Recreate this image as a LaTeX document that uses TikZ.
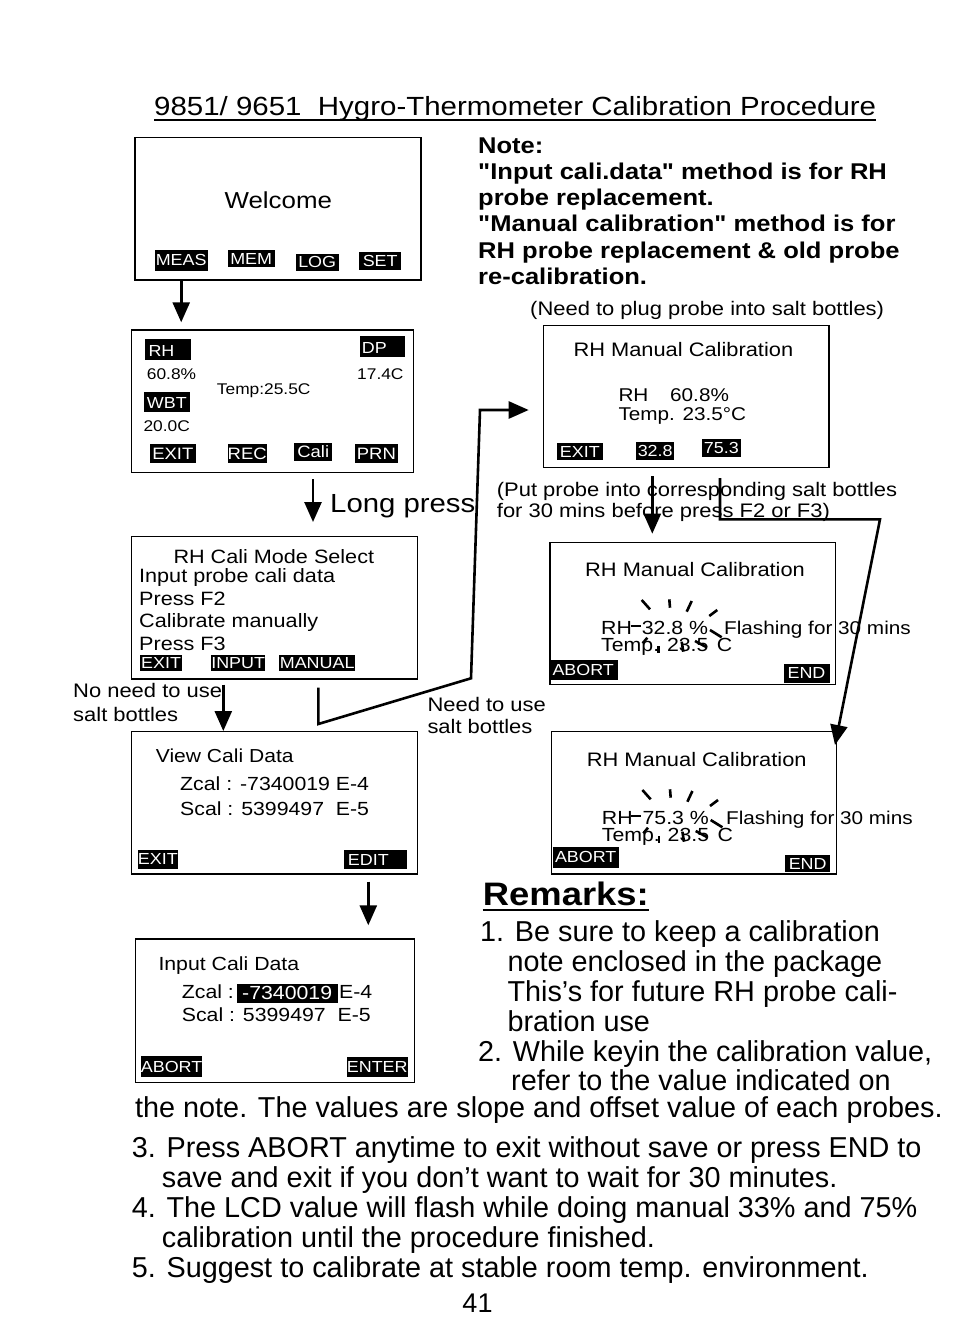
\documentclass[tikz,border=0pt]{standalone}
\usepackage{fontspec}
\setmainfont{Liberation Sans}
\newfontfamily\wide{Liberation Sans}[FakeStretch=1.12]
\usetikzlibrary{arrows.meta}
\newcommand\fsz[1]{\fontsize{#1}{#1}\selectfont}
\tikzset{
  screen/.style={draw, line width=1.4pt, inner sep=0pt, anchor=north west},
  tag/.style={fill=black, text=white, inner sep=0pt, font=\wide\fsz{16}, anchor=north west},
  tagtxt/.style={text=white, inner sep=0pt, anchor=base west, font=\wide\fsz{16}},
  txt/.style={inner sep=0pt, anchor=base west},
  scr/.style={txt, font=\wide\fsz{19.3}},
  small/.style={txt, font=\wide\fsz{15.5}},
  lbl/.style={txt, font=\wide\fsz{19.6}},
  notef/.style={txt, font=\wide\bfseries\fsz{22.8}},
  rem/.style={txt, font=\fsz{28.8}},
  arr/.style={line width=2.6pt, -{Triangle[length=20pt,width=17pt]}},
  flash/.style={line width=2.6pt}
}
\newcommand\screen[5]{\node[screen, minimum width={(#4-#2)*1pt}, minimum height={(#5-#3)*1pt}] (#1) at (#2,#3) {};}
\newcommand\tagbox[6]{\node[tag, minimum width={(#4-#2)*1pt}, minimum height={(#5-#3)*1pt}] (#1) at (#2,#3) {#6};}
\newcommand\flashticks{%
  \draw[flash] (641.7,600) -- (650,609.3);
  \draw[flash] (669.3,599.3) -- (670,607.7);
  \draw[flash] (691.7,601) -- (686.7,611.7);
  \draw[flash] (717.3,610) -- (709.3,616);
  \draw[flash] (630.7,626) -- (640.7,626);
  \draw[flash] (710,630) -- (721.7,637.3);
  \draw[flash] (695,641) -- (706.7,647.3);
  \draw[flash] (681.7,641.7) -- (683.3,651.7);
  \draw[flash] (658.3,646) -- (658.3,653.3);
  \draw[flash] (647.3,637.7) -- (642.7,643.3);
}
\begin{document}
\begin{tikzpicture}[x=1pt,y=-1pt]
\useasboundingbox (0,0) rectangle (954,1344);
\fill[white] (0,0) rectangle (954,1344);

% title
\node[txt, font=\wide\fsz{26.3}] (title) at (154,115) {9851/ 9651\ \ Hygro-Thermometer Calibration Procedure};
\draw[line width=1.3pt] ([yshift=-5pt]title.base west) -- ([yshift=-5pt]title.base east);

% note
\node[notef] (n1) at (478,153) {Note:};
\node[notef] (n2) at (478,179) {"Input cali.data" method is for RH};
\node[notef] (n3) at (478,205) {probe replacement.};
\node[notef] (n4) at (478,231) {"Manual calibration" method is for};
\node[notef] (n5) at (478,258) {RH probe replacement \& old probe};
\node[notef] (n6) at (478,284) {re-calibration.};

% welcome screen
\screen{welcome}{134.3}{136.7}{420.3}{279.3}
\node[font=\wide\fsz{23.1}, inner sep=0pt, anchor=base] (wtxt) at (278.3,208) {Welcome};
\tagbox{tmeas}{154.3}{249.3}{207.7}{270.7}{MEAS}
\tagbox{tmem}{227.7}{250}{274.3}{266.7}{MEM}
\tagbox{tlog}{295.7}{253.3}{338.3}{270.7}{LOG}
\tagbox{tset}{359}{251.7}{401}{270}{SET}

% measurement screen
\screen{meas}{130.5}{329.3}{413}{471.7}
\tagbox{trh}{145}{338.3}{190.7}{359.3}{}
\node[tagtxt] (trht) at (148.3,356) {RH};
\tagbox{tdp}{359.3}{336}{405}{356.7}{}
\node[tagtxt] (tdpt) at (361.7,353) {DP};
\tagbox{twbt}{144}{391.7}{190}{411.7}{}
\node[tagtxt] (twbtt) at (146.7,408) {WBT};
\tagbox{texit1}{149.3}{444}{196}{462.7}{\fsz{16.5}EXIT}
\tagbox{trec}{227.3}{444}{266.7}{462.7}{\fsz{16.5}REC}
\tagbox{tcali}{294}{442.3}{332}{460.7}{\fsz{16.5}Cali}
\tagbox{tprn}{355}{444}{397.3}{462.7}{\fsz{16.5}PRN}
\node[small] (v1) at (146.7,379) {60.8\%};
\node[small] (v2) at (357,379) {17.4C};
\node[small] (v3) at (216.7,394) {Temp:25.5C};
\node[small] (v4) at (143.3,431) {20.0C};

\draw[arr, shorten >=7pt] (welcome.south -| tmeas) -- (meas.north -| tmeas);

% long press
\coordinate (lp) at (313,500);
\node[txt, font=\wide\fsz{26.2}] (longpress) at (330,512) {Long press};

% mode select screen
\screen{mode}{131}{536}{416.7}{678.3}
\node[scr] (m1t) at (173.3,563) {RH Cali Mode Select};
\node[scr] (m2t) at (139,582) {Input probe cali data};
\node[scr] (m3t) at (139,605) {Press F2};
\node[scr] (m4t) at (139,627) {Calibrate manually};
\node[scr] (m5t) at (139,650) {Press F3};
\tagbox{texit2}{140}{655}{181.7}{670.5}{EXIT}
\tagbox{tinput}{211}{655}{265}{670.5}{INPUT}
\tagbox{tmanual}{279}{655}{355}{670.5}{MANUAL}

\draw[arr, shorten <=6pt, shorten >=14pt] (meas.south -| lp) -- (mode.north -| lp);

% view cali data screen
\screen{view}{130.5}{731}{416.7}{873.3}
\node[scr, font=\wide\fsz{18.8}] (vt1) at (155.7,762) {View Cali Data};
\node[scr, font=\wide\fsz{19}] (vt2) at (180,790.7) {Zcal : -7340019 E-4};
\node[scr, font=\wide\fsz{19}] (vt3) at (180,815) {Scal : 5399497\ \ E-5};
\tagbox{texit3}{137.7}{850}{176.7}{868.3}{EXIT}
\tagbox{tedit}{343.3}{850}{406.7}{868.3}{}
\node[tagtxt] (tedt) at (347.7,865) {EDIT};

\coordinate (nn) at (223.3,700);
\draw[arr, shorten <=5pt] (mode.south -| nn) -- (view.north -| nn);
\node[lbl] (nn1) at (73,697) {No need to use};
\node[lbl] (nn2) at (73,721) {salt bottles};

% input cali data screen
\screen{input}{135}{938.3}{414}{1081.7}
\node[scr, font=\wide\fsz{19}] (it1) at (158.3,970) {Input Cali Data};
\node[scr, font=\wide\fsz{19}] (it2) at (181.7,998.3) {Zcal :};
\tagbox{thl}{236.7}{983.3}{337.3}{1002.7}{\fsz{19}-7340019}
\node[scr, font=\wide\fsz{19}] (it3) at (339,998.3) {E-4};
\node[scr, font=\wide\fsz{19}] (it4) at (181.7,1021.7) {Scal : 5399497\ \ E-5};
\tagbox{tabort1}{140.7}{1056}{201.7}{1076.7}{ABORT}
\tagbox{tenter}{346.7}{1057}{407.3}{1077}{ENTER}

\coordinate (ve) at (368.3,900);
\draw[arr, shorten <=7pt, shorten >=13pt] (view.south -| ve) -- (input.north -| ve);

% manual calibration screen 1
\node[lbl] (plug) at (530,315) {(Need to plug probe into salt bottles)};
\screen{man1}{542.7}{325}{828.3}{466.7}
\node[scr, font=\wide\fsz{19.5}] (a1) at (573.3,356) {RH Manual Calibration};
\node[scr, font=\wide\fsz{18.5}] (a2) at (618.3,401.7) {RH};
\node[scr, font=\wide\fsz{18.5}] (a3) at (670,401.7) {60.8\%};
\node[scr, font=\wide\fsz{18.5}] (a4) at (618.3,420) {Temp. 23.5°C};
\tagbox{texit4}{556.7}{442.7}{602.7}{460}{EXIT}
\tagbox{t328}{636}{441.7}{674}{460}{32.8}
\tagbox{t753}{701.7}{438.3}{740.7}{456.7}{75.3}

% manual path
\coordinate (mp1) at (318.3,724);
\coordinate (mp2) at (471,678.3);
\coordinate (mp3) at (480,410);
\draw[arr, line join=miter, shorten <=8pt, shorten >=14pt] (mode.south -| mp1) -- (mp1) -- (mp2) -- (mp3) -- (man1.west |- mp3);
\node[lbl] (need1) at (427.3,711.7) {Need to use};
\node[lbl] (need2) at (427.3,733.3) {salt bottles};

\node[lbl] (put1) at (496.7,496) {(Put probe into corresponding salt bottles};
\node[lbl] (put2) at (496.7,517.7) {for 30 mins before press F2 or F3)};

% manual calibration screen 2
\screen{man2}{549.3}{541.7}{835}{684}
\node[scr, font=\wide\fsz{19.5}] (b1) at (585,576.7) {RH Manual Calibration};
\node[scr, font=\wide\fsz{19}] (b2) at (601,634) {RH};
\node[scr, font=\wide\fsz{19}] (b3) at (641.7,634) {32.8 \%};
\node[scr, font=\wide\fsz{18.5}] (b4) at (724,634) {Flashing for 30 mins};
\node[scr, font=\wide\fsz{19}] (b5) at (601,651.7) {Temp. 23.5};
\node[scr, font=\wide\fsz{19}] (b6) at (716.7,651.7) {C};
\flashticks
\tagbox{tabort2}{548.3}{659.3}{617.7}{680}{ABORT}
\tagbox{tend2}{783.3}{663.3}{829.3}{682.7}{END}

% manual calibration screen 3
\screen{man3}{551}{731}{836}{873.3}
\node[scr, font=\wide\fsz{19.5}] (c1) at (586.7,766.7) {RH Manual Calibration};
\node[scr, font=\wide\fsz{19}] (c2) at (601.7,824) {RH};
\node[scr, font=\wide\fsz{19}] (c3) at (642.4,824) {75.3 \%};
\node[scr, font=\wide\fsz{18.5}] (c4) at (726,824) {Flashing for 30 mins};
\node[scr, font=\wide\fsz{19}] (c5) at (601.7,841.7) {Temp. 23.5};
\node[scr, font=\wide\fsz{19}] (c6) at (717.4,841.7) {C};
\begin{scope}[shift={(0.7,190)}]
\flashticks
\end{scope}
\tagbox{tabort3}{552.7}{846.7}{618.3}{867.3}{ABORT}
\tagbox{tend3}{785}{855}{830}{871.7}{END}

% arrows from screen 1
\coordinate (d1) at (652.3,500);
\draw[arr, shorten <=8pt, shorten >=8pt] (man1.south -| d1) -- (man2.north -| d1);
\coordinate (r1) at (720,519.3);
\coordinate (r2) at (880,519.3);
\coordinate (r3) at (835,745);
\draw[arr, line join=miter, shorten <=10pt] (man1.south -| r1) -- (r1) -- (r2) -- (r3);

% remarks
\node[txt, font=\wide\bfseries\fsz{32.5}] (remarks) at (482.7,905) {Remarks:};
\draw[line width=2pt] ([yshift=-5pt]remarks.base west) -- ([yshift=-5pt]remarks.base east);
\node[rem] (r01) at (480,941) {1. Be sure to keep a calibration};
\node[rem] (r02) at (507.3,971) {note enclosed in the package};
\node[rem] (r03) at (507.3,1001) {This's for future RH probe cali-};
\node[rem] (r04) at (507.3,1031) {bration use};
\node[rem] (r05) at (478,1061) {2. While keyin the calibration value,};
\node[rem] (r06) at (511,1090) {refer to the value indicated on};
\node[rem] (r07) at (135,1117) {the note. The values are slope and offset value of each probes.};
\node[rem] (r08) at (131.7,1157) {3. Press ABORT anytime to exit without save or press END to};
\node[rem] (r09) at (161.7,1187) {save and exit if you don't want to wait for 30 minutes.};
\node[rem] (r10) at (131.7,1217) {4. The LCD value will flash while doing manual 33\% and 75\%};
\node[rem] (r11) at (161.7,1247) {calibration until the procedure finished.};
\node[rem] (r12) at (131.7,1277) {5. Suggest to calibrate at stable room temp. environment.};
\node[inner sep=0pt, anchor=base, font=\fsz{27}] (page) at (477.5,1312) {41};
\end{tikzpicture}
\end{document}
